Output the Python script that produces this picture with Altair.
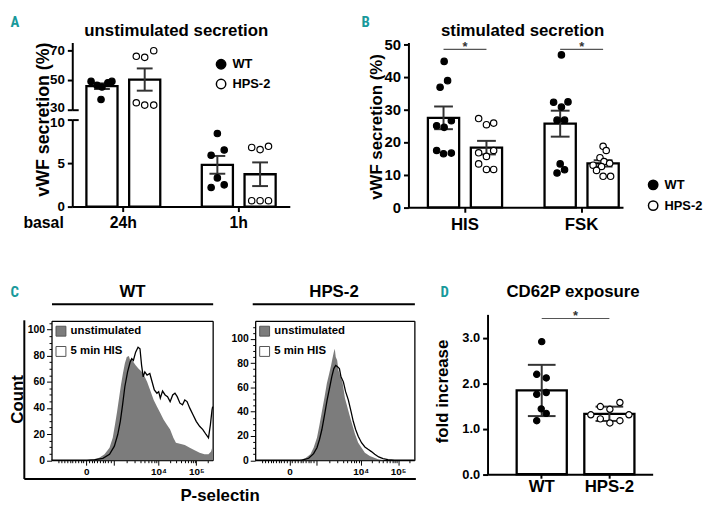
import altair as alt
import pandas as pd

# ---------------- values ----------------
SERIES = ["WT", "HPS-2"]

# A: unstimulated vWF secretion (%)
A_GROUPS = ["24h", "1h"]
A_24H_WT = [49.1, 49.1, 48.2, 46.5, 45.3, 36.9]
A_24H_WT_SPREAD = [-0.35, 0.32, 0.19, -0.16, 0.0, -0.03]
A_24H_HPS = [66.0, 65.3, 69.8, 34.7, 33.1, 33.1]
A_24H_HPS_SPREAD = [-0.27, 0.0, 0.29, -0.27, 0.0, 0.29]
A_1H_WT = [8.4, 6.5, 5.9, 3.3, 2.5, 2.2]
A_1H_WT_SPREAD = [0.0, 0.22, -0.2, 0.0, 0.22, -0.2]
A_1H_HPS = [6.8, 6.55, 6.93, 0.68, 0.68, 0.68]
A_1H_HPS_SPREAD = [-0.27, 0.0, 0.27, -0.27, 0.0, 0.27]
A_TICKS = [0, 5, 10, 30, 50, 70]

# B: stimulated vWF secretion (%)
B_GROUPS = ["HIS", "FSK"]
B_HIS_WT = [44.7, 38.8, 36.8, 25.0, 24.5, 26.5, 17.4, 16.4, 16.6]
B_HIS_WT_SPREAD = [0.02, 0.13, -0.11, -0.22, 0.02, 0.25, -0.22, 0.0, 0.25]
B_HIS_HPS = [27.2, 25.3, 25.8, 16.7, 15.6, 17.4, 13.3, 11.6, 11.6]
B_HIS_HPS_SPREAD = [-0.25, 0.0, 0.23, -0.25, 0.0, 0.23, -0.25, 0.0, 0.23]
B_FSK_WT = [46.7, 32.2, 30.7, 32.3, 26.7, 26.7, 13.3, 10.5, 11.5]
B_FSK_WT_SPREAD = [0.04, -0.21, 0.04, 0.25, -0.1, 0.14, 0.0, -0.1, 0.14]
B_FSK_HPS = [18.7, 17.4, 15.2, 14.0, 13.5, 12.9, 12.5, 11.3, 9.5, 9.5]
B_FSK_HPS_SPREAD = [0.0, 0.1, -0.1, 0.03, 0.21, -0.32, -0.05, -0.21, 0.0, 0.24]
B_SIG_LEVEL = 48.4
B_TICKS = [0, 10, 20, 30, 40, 50]

# C: flow cytometry histograms (display position 0-100, count)
WT_UNSTIM_X = [0, 22.8, 26.8, 29.9, 32.9, 36.0, 38.0, 39.4, 40.7, 41.9, 43.1, 44.3, 45.5, 46.7, 48.0, 48.8, 49.6, 50.8, 52.2, 53.9,
               55.7, 57.3, 59.3, 61.4, 63.4, 65.4, 67.5, 69.5, 71.5, 73.6, 75.6, 77.2, 79.7, 82.7, 85.8, 88.8, 91.9, 94.9, 97.4, 99.0, 100]
WT_UNSTIM_Y = [0, 0, 0.5, 2, 4.5, 9.6, 17.2, 27.3, 37.4, 47.5, 57.6, 66.4, 74, 79, 79.8, 76.5, 78.3, 75.2, 72.7, 70.2,
               68.2, 65.2, 60.1, 53, 46.2, 41.1, 36.1, 31.1, 27.3, 23.5, 17.2, 13.4, 12.6, 11.6, 9.6, 7.6, 5.8, 4.5, 4.5, 6.6, 10.8]
WT_HIS_X = [0, 22, 26.8, 31.9, 36.0, 39.0, 41.1, 42.7, 44.1, 45.5, 47.2, 48.8, 49.8, 50.8, 52.2, 53.7, 54.9, 55.9, 56.9, 57.9,
            59.3, 61.0, 62.4, 63.8, 65.4, 66.5, 67.5, 68.9, 70.5, 72.0, 73.6, 75.2, 76.6, 78.0, 79.7, 81.3, 82.7, 84.1, 85.8, 87.8,
            89.8, 91.9, 93.9, 95.9, 97.4, 98.6, 99.6, 100]
WT_HIS_Y = [0, 0, 0.5, 1.5, 4.5, 10.8, 19.7, 29.8, 42.4, 56.3, 67.7, 75.2, 77.8, 76.5, 82.8, 86.6, 85.4, 72.7, 63.9, 67.7,
            65.2, 66.4, 60.1, 53.8, 51.3, 52.5, 47.5, 53, 50, 48.7, 44.9, 50, 51.3, 48.7, 43.7, 42.4, 46.2, 44.9, 39.9, 34.8,
            29.8, 26, 23.5, 19.7, 17.2, 27.3, 38.6, 41.1]
HPS_UNSTIM_X = [0, 27.4, 31.5, 34.7, 36.7, 38.8, 40.4, 41.9, 43.6, 45.0, 46.5, 47.7, 48.5, 49.4, 50.0, 50.6, 51.5, 52.3, 53.3, 54.8,
                56.4, 58.1, 59.5, 61.0, 62.7, 64.7, 66.8, 68.9, 72.0, 77.2, 81.3, 100]
HPS_UNSTIM_Y = [0, 0, 1.6, 4.9, 10.3, 18.5, 29.3, 40.2, 52.4, 63.3, 71.5, 78.2, 83.7, 89.1, 91.8, 85, 82.3, 74.2, 70.1, 64.6,
                51.1, 42.9, 36.1, 29.3, 21.7, 14.4, 10.3, 6.2, 3.5, 0.8, 0, 0]
HPS_HIS_X = [0, 29.4, 33.6, 36.7, 38.8, 40.4, 41.9, 43.6, 45.2, 46.9, 48.1, 49.4, 50.6, 51.9, 52.9, 53.9, 55.4, 56.8, 58.5, 60.2,
             61.6, 63.1, 64.7, 66.8, 68.9, 70.9, 73.0, 75.1, 77.6, 80.3, 83.4, 87.6, 100]
HPS_HIS_Y = [0, 0, 1.6, 5.4, 10.3, 17.1, 25.3, 37.5, 49.7, 60.6, 68.7, 75.5, 78.2, 76.9, 75.5, 68.7, 64.6, 56.5, 49.7, 40.2,
             32.1, 25.3, 19.8, 14.4, 10.9, 9, 7.1, 4.9, 2.7, 1.4, 0.5, 0, 0]
CONDS = ["unstimulated", "5 min HIS"]
HX_MAJOR = [21.5, 38.4, 66.3, 89.8]
HX_LABELS = ["0", "", "10\u2074", "10\u2075"]
HX_MINOR = [4.6, 6.3, 8.0, 9.7, 11.4, 13.1, 14.8, 16.4, 18.1, 19.8, 23.2, 24.9, 26.6, 28.3, 30.0, 31.6, 33.3, 35.0, 36.7,
            46.8, 51.7, 55.2, 57.9, 60.1, 62.0, 63.6, 65.0, 73.4, 77.5, 80.4, 82.7, 84.6, 86.2, 87.5, 88.7, 96.9]

# D: CD62P exposure (fold increase)
D_WT = [2.92, 2.2, 2.12, 1.76, 1.8, 1.44, 1.34, 1.18]
D_WT_SPREAD = [0.0, -0.1, 0.09, -0.1, 0.09, -0.01, 0.09, -0.1]
D_HPS = [1.31, 1.49, 1.43, 1.58, 1.31, 1.22, 1.13, 1.18]
D_HPS_SPREAD = [-0.37, -0.18, 0.01, 0.21, 0.39, -0.18, 0.01, 0.21]
D_SIG_LEVEL = 3.43
D_TICKS = [0, 1, 2, 3]

# ---------------- layout / style ----------------
W, H = 711, 504
FONT = "Liberation Sans"
LETTER = "Roboto Condensed, DejaVu Sans Condensed, Roboto"
TEAL = "#18999b"
INK = "#333333"
OFF_PI = 0.272
D_RANGE, D_PI, D_PO, D_ALIGN = [485, 652], 0.259, 0.35, 0.615


def sub_bands(pi, n=2):
    step = 1.0 / (n - pi)
    bw = step * (1 - pi)
    return [i * step + bw / 2 for i in range(n)], bw


SUB_C, SUB_BW = sub_bands(OFF_PI)


def unit_offset():
    return alt.XOffset("off:Q", scale=alt.Scale(domain=[0, 1], nice=False, zero=False))


def grouped_frame(entries):
    rows = []
    for grp, ser, vals, spread in entries:
        c = SUB_C[SERIES.index(ser)]
        for v, s in zip(vals, spread):
            rows.append({"group": grp, "series": ser, "value": v, "off": c + s * SUB_BW})
    return pd.DataFrame(rows)


def dot_legend(lx, ly, rp):
    return alt.Legend(orient="none", legendX=lx, legendY=ly, title=None, symbolType="circle", symbolSize=90,
                      symbolStrokeColor="black", symbolStrokeWidth=1.5, labelFont=FONT, labelFontWeight="bold",
                      labelFontSize=13, labelColor="black", labelOffset=5, rowPadding=rp, padding=0)


def grouped_panel(df, groups, xscale, yscale, xaxis, yaxis, cap, legend, sig_level):
    def xo():
        return alt.XOffset("series:N", scale=alt.Scale(domain=SERIES, paddingInner=OFF_PI, paddingOuter=0))

    def xn():
        return alt.X("group:N", scale=xscale, axis=None)

    def agg():
        return alt.Chart(df).transform_aggregate(
            m="mean(value)", se="stderr(value)", groupby=["group", "series"]
        ).transform_calculate(lo="datum.m - datum.se", hi="datum.m + datum.se")

    bars = agg().mark_bar(fill="white", stroke="black", strokeWidth=2.3).encode(
        x=alt.X("group:N", scale=xscale, axis=xaxis), xOffset=xo(),
        y=alt.Y("m:Q", scale=yscale, axis=yaxis))
    err = agg().mark_rule(color=INK, strokeWidth=2).encode(
        x=xn(), xOffset=xo(), y=alt.Y("lo:Q", scale=yscale, axis=None), y2="hi:Q")
    caps = agg().transform_fold(["lo", "hi"], as_=["end", "v"]).mark_tick(
        color=INK, thickness=2, size=cap, opacity=1).encode(
        x=xn(), xOffset=xo(), y=alt.Y("v:Q", scale=yscale, axis=None))
    pts = alt.Chart(df).mark_point(filled=True, stroke="black", strokeWidth=1.2, size=42, opacity=1).encode(
        x=xn(), xOffset=unit_offset(),
        y=alt.Y("value:Q", scale=yscale, axis=None),
        fill=alt.Fill("series:N", scale=alt.Scale(domain=SERIES, range=["black", "white"]), legend=legend))
    layers = [bars, err, caps, pts]
    if sig_level is not None:
        sdf = pd.DataFrame({"group": groups, "level": [sig_level] * len(groups), "star": ["*"] * len(groups),
                            "off": [0.5] * len(groups)})
        rule = alt.Chart(sdf).mark_rule(color="#555555", strokeWidth=1.2).encode(
            x=alt.X("group:N", scale=xscale, axis=None, bandPosition=SUB_C[0]),
            x2=alt.X2("group:N", bandPosition=SUB_C[1]),
            y=alt.Y("level:Q", scale=yscale, axis=None))
        star = alt.Chart(sdf).mark_text(font=FONT, fontWeight="bold", fontSize=13, color=INK,
                                        baseline="alphabetic", align="center", dy=1.5).encode(
            x=xn(), xOffset=unit_offset(),
            y=alt.Y("level:Q", scale=yscale, axis=None), text="star:N")
        layers += [rule, star]
    return layers


GUIDE_DF = pd.DataFrame({"g": [0, 1]})


def guide(channel, rng, **kw):
    enc = alt.X if channel == "x" else alt.Y
    kw.setdefault("labels", False)
    kw.setdefault("ticks", False)
    kw.setdefault("title", None)
    kw.setdefault("grid", False)
    return alt.Chart(GUIDE_DF).mark_point(opacity=0).encode(
        **{channel: enc("g:Q", scale=alt.Scale(domain=[0, 1], range=rng, nice=False, zero=False),
                        axis=alt.Axis(**kw))})


def heading(text, x, y, size=17, align="center", font=FONT, color="black"):
    return guide("x", [0, W], orient="top", offset=0, domain=False, title=text, titleX=x, titleY=y,
                 titleAlign=align, titleBaseline="alphabetic", titleAngle=0, titleFontSize=size,
                 titleFont=font, titleColor=color, titleFontWeight="bold")


# ---------------- panel A ----------------
a_df = grouped_frame([("24h", "WT", A_24H_WT, A_24H_WT_SPREAD), ("24h", "HPS-2", A_24H_HPS, A_24H_HPS_SPREAD),
                      ("1h", "WT", A_1H_WT, A_1H_WT_SPREAD), ("1h", "HPS-2", A_1H_HPS, A_1H_HPS_SPREAD)])
a_x = alt.Scale(domain=A_GROUPS, range=[65, 285], paddingInner=0.36, paddingOuter=0.1225)
a_y = alt.Scale(domain=[0, 10, 30, 70], range=[198, 110, 100, 40], nice=False, zero=False)
a_xaxis = alt.Axis(orient="bottom", offset=198 - H, labelFontSize=16, labelPadding=3, labelAngle=0, tickSize=5,
                   tickWidth=2, domainWidth=2, title="basal", titleX=35.5, titleY=21, titleAngle=0,
                   titleAlign="center", titleBaseline="alphabetic", titleFontSize=16)
a_yaxis = alt.Axis(orient="left", offset=-65, values=A_TICKS, domain=False, tickSize=5, tickWidth=2,
                   labelFontSize=13.5, labelPadding=3, labelOverlap=False,
                   labelOffset={"condition": [{"test": "datum.value === 30", "value": -2.5},
                                              {"test": "datum.value === 10", "value": 2.5}], "value": 0},
                   title="vWF secretion (%)", titleFontSize=18, titleX=-29, titleY=109.5, titleAngle=-90,
                   titleBaseline="middle", titleAlign="center")
panel_a = grouped_panel(a_df, A_GROUPS, a_x, a_y, a_xaxis, a_yaxis, 16, dot_legend(209, 47.5, 3), None)

# ---------------- panel B ----------------
b_df = grouped_frame([("HIS", "WT", B_HIS_WT, B_HIS_WT_SPREAD), ("HIS", "HPS-2", B_HIS_HPS, B_HIS_HPS_SPREAD),
                      ("FSK", "WT", B_FSK_WT, B_FSK_WT_SPREAD), ("FSK", "HPS-2", B_FSK_HPS, B_FSK_HPS_SPREAD)])
b_x = alt.Scale(domain=B_GROUPS, range=[405, 622], paddingInner=0.364, paddingOuter=0.1017, align=0.82)
b_y = alt.Scale(domain=[0, 50.5], range=[198.7, 32], nice=False, zero=False)
b_xaxis = alt.Axis(orient="bottom", offset=198.7 - H, labelFontSize=17, labelPadding=4, labelAngle=0, tickSize=5,
                   tickWidth=2, domainWidth=2, title=None)
b_yaxis = alt.Axis(orient="left", offset=-405, values=B_TICKS, tickSize=5, tickWidth=2, domainWidth=2,
                   labelFontSize=15, labelPadding=3, title="vWF secretion (%)", titleFontSize=17, titleX=-32,
                   titleY=117, titleAngle=-90, titleBaseline="middle", titleAlign="center")
panel_b = grouped_panel(b_df, B_GROUPS, b_x, b_y, b_xaxis, b_yaxis, 19, dot_legend(646, 169.5, 4), B_SIG_LEVEL)

# ---------------- panel C ----------------
HX_VALUES = sorted(HX_MAJOR + HX_MINOR)
HX_EXPR = " : ".join(f"datum.value === {v} ? '{t}'" for v, t in zip(HX_MAJOR, HX_LABELS)) + " : ''"
HX_TEST = "indexof([" + ",".join(str(v) for v in HX_MAJOR) + "], datum.value) >= 0"


def hist_panel(ux, uy, hx, hy, x_rng, y_max, y_off, y_top_tick, lx):
    xs = alt.Scale(domain=[0, 100], range=x_rng, nice=False, zero=False)
    ys = alt.Scale(domain=[0, y_max], range=[454.5, 313.5], nice=False, zero=False)
    xaxis = alt.Axis(orient="bottom", offset=454.5 - H, values=HX_VALUES, labelExpr=HX_EXPR,
                     tickSize={"condition": {"test": HX_TEST, "value": 5}, "value": 2.5}, tickWidth=1,
                     domainWidth=1.3, labelFontSize=10, labelPadding=1, labelOverlap=False, labelFlush=False,
                     title=None)
    yaxis = alt.Axis(orient="left", offset=y_off, values=list(range(0, y_top_tick + 1, 5)),
                     labelExpr="datum.value % 20 === 0 ? datum.label : ''",
                     tickSize={"condition": {"test": "datum.value % 20 === 0", "value": 5}, "value": 2.5},
                     tickWidth=1, domainWidth=1.3, labelFontSize=10.5, labelPadding=2, labelOverlap=False,
                     title=None)
    un = pd.DataFrame({"u": ux, "c": uy, "cond": CONDS[0]})
    hi = pd.DataFrame({"u": hx, "c": hy})
    area = alt.Chart(un).mark_area(opacity=1, strokeWidth=0).encode(
        x=alt.X("u:Q", scale=xs, axis=xaxis), y=alt.Y("c:Q", scale=ys, axis=yaxis),
        fill=alt.Fill("cond:N", scale=alt.Scale(domain=CONDS, range=["#7c7c7c", "white"]),
                      legend=alt.Legend(orient="none", legendX=lx, legendY=318.25, title=None, symbolType="square",
                                        symbolSize=100, symbolStrokeColor="#555555", symbolStrokeWidth=1,
                                        labelFont=FONT, labelFontWeight="bold", labelFontSize=11.5,
                                        labelColor="black", labelOffset=4, rowPadding=5.5, padding=0)))
    line = alt.Chart(hi).mark_line(color="black", strokeWidth=1.3).encode(
        x=alt.X("u:Q", scale=xs, axis=None), y=alt.Y("c:Q", scale=ys, axis=None))
    return [area, line]


panel_c_wt = hist_panel(WT_UNSTIM_X, WT_UNSTIM_Y, WT_HIS_X, WT_HIS_Y, [44, 207], 106.8, -44, 105, 47.8)
panel_c_hps = hist_panel(HPS_UNSTIM_X, HPS_UNSTIM_Y, HPS_HIS_X, HPS_HIS_Y, [250, 411], 114.9, -250, 110, 253.8)

# ---------------- panel D ----------------
d_df = pd.DataFrame(
    [{"geno": "WT", "value": v, "off": 0.5 + s} for v, s in zip(D_WT, D_WT_SPREAD)] +
    [{"geno": "HPS-2", "value": v, "off": 0.5 + s} for v, s in zip(D_HPS, D_HPS_SPREAD)])
d_x = alt.Scale(domain=SERIES, range=D_RANGE, paddingInner=D_PI, paddingOuter=D_PO, align=D_ALIGN)
d_y = alt.Scale(domain=[0, 3.52], range=[468.7, 307], nice=False, zero=False)
d_xaxis = alt.Axis(orient="bottom", offset=468.7 - H, labelFontSize=17, labelPadding=0, labelAngle=0, tickSize=4,
                   tickWidth=2, domainWidth=2, title=None)
d_yaxis = alt.Axis(orient="left", offset=-485, values=D_TICKS, format=".1f", tickSize=5, tickWidth=2,
                   domainWidth=2, labelFontSize=13, labelPadding=3, title="fold increase", titleFontSize=17,
                   titleX=-45, titleY=384.5, titleAngle=-90, titleBaseline="middle", titleAlign="center")


def d_agg():
    return alt.Chart(d_df).transform_aggregate(m="mean(value)", sd="stdev(value)", groupby=["geno"]
                                               ).transform_calculate(lo="datum.m - datum.sd", hi="datum.m + datum.sd")


def d_xn(field="geno:N"):
    return alt.X(field, scale=d_x, axis=None)


d_bars = d_agg().mark_bar(fill="white", stroke="black", strokeWidth=2.3).encode(
    x=alt.X("geno:N", scale=d_x, axis=d_xaxis), y=alt.Y("m:Q", scale=d_y, axis=d_yaxis))
d_err = d_agg().mark_rule(color=INK, strokeWidth=2).encode(
    x=d_xn(), y=alt.Y("lo:Q", scale=d_y, axis=None), y2="hi:Q")
d_caps = d_agg().transform_fold(["lo", "hi"], as_=["end", "v"]).mark_tick(
    color=INK, thickness=2, size=28, opacity=1).encode(x=d_xn(), y=alt.Y("v:Q", scale=d_y, axis=None))
d_pts = alt.Chart(d_df).mark_point(filled=True, stroke="black", strokeWidth=1.2, size=40, opacity=1).encode(
    x=d_xn(), xOffset=unit_offset(),
    y=alt.Y("value:Q", scale=d_y, axis=None),
    fill=alt.Fill("geno:N", scale=alt.Scale(domain=SERIES, range=["black", "white"]), legend=None))
d_sig = pd.DataFrame({"a": ["WT"], "b": ["HPS-2"], "level": [D_SIG_LEVEL], "star": ["*"],
                      "off": [1.0 + D_PI / (2 * (1 - D_PI))]})
d_rule = alt.Chart(d_sig).mark_rule(color="#555555", strokeWidth=1.2).encode(
    x=alt.X("a:N", scale=d_x, axis=None, bandPosition=0.5), x2=alt.X2("b:N", bandPosition=0.5),
    y=alt.Y("level:Q", scale=d_y, axis=None))
d_star = alt.Chart(d_sig).mark_text(font=FONT, fontWeight="bold", fontSize=13, color=INK, baseline="alphabetic",
                                    align="center", dy=1.5).encode(
    x=d_xn("a:N"), xOffset=unit_offset(),
    y=alt.Y("level:Q", scale=d_y, axis=None), text="star:N")
panel_d = [d_bars, d_err, d_caps, d_pts, d_rule, d_star]

# ---------------- frames, headers, titles ----------------
guides = [
    guide("y", [198, 110], orient="left", offset=-65, domainWidth=2),
    guide("y", [100, 32], orient="left", offset=-65, domainWidth=2),
    guide("y", [100, 32], orient="right", offset=65 - W, domain=False, ticks=True, values=[0], tickSize=6,
          tickWidth=2),
    guide("y", [198, 110], orient="right", offset=65 - W, domain=False, ticks=True, values=[1], tickSize=6,
          tickWidth=2),
    guide("x", [44, 207], orient="top", offset=-313.5, domainWidth=1.3),
    guide("y", [454.5, 313.5], orient="right", offset=207 - W, domainWidth=1.3),
    guide("x", [250, 411], orient="top", offset=-313.5, domainWidth=1.3),
    guide("y", [454.5, 313.5], orient="right", offset=411 - W, domainWidth=1.3),
    guide("x", [44, 207], orient="top", offset=-296.3, domainWidth=2, title="WT", titleX=125.5, titleY=-7.3,
          titleAlign="center", titleBaseline="alphabetic", titleAngle=0, titleFontSize=17),
    guide("x", [247, 411], orient="top", offset=-296.3, domainWidth=2, title="HPS-2", titleX=329.2, titleY=-7.3,
          titleAlign="center", titleBaseline="alphabetic", titleAngle=0, titleFontSize=17),
    guide("y", [473, 312.5], orient="left", offset=-16, domainWidth=2, title="Count", titleX=-6, titleY=392.5,
          titleAngle=-90, titleBaseline="middle", titleAlign="center", titleFontSize=17),
    guide("x", [16, 412], orient="bottom", offset=473 - H, domainWidth=2, title="P-selectin", titleX=214,
          titleY=22, titleAngle=0, titleBaseline="alphabetic", titleAlign="center", titleFontSize=17),
    heading("A", 2, 16, size=15, align="left", font=LETTER, color=TEAL),
    heading("unstimulated secretion", 169.7, 24.5),
    heading("B", 357, 16, size=15, align="left", font=LETTER, color=TEAL),
    heading("stimulated secretion", 520, 25.3),
    heading("C", 2, 288.7, size=15, align="left", font=LETTER, color=TEAL),
    heading("D", 437, 288.7, size=15, align="left", font=LETTER, color=TEAL),
    heading("CD62P exposure", 571, 289),
]

chart = alt.layer(*panel_a, *panel_b, *panel_c_wt, *panel_c_hps, *panel_d, *guides).resolve_scale(
    x="independent", y="independent", xOffset="independent", fill="independent"
).resolve_axis(x="independent", y="independent").resolve_legend(fill="independent").properties(
    width=W, height=H, padding=0, background="white", autosize=alt.AutoSizeParams(type="none")
).configure_view(strokeWidth=0).configure_axis(
    grid=False, labelFont=FONT, labelFontWeight="bold", labelColor="black", titleFont=FONT,
    titleFontWeight="bold", titleColor="black", domainColor="black", tickColor="black"
)

chart.save("out.html", embed_options={"renderer": "svg", "actions": False})
